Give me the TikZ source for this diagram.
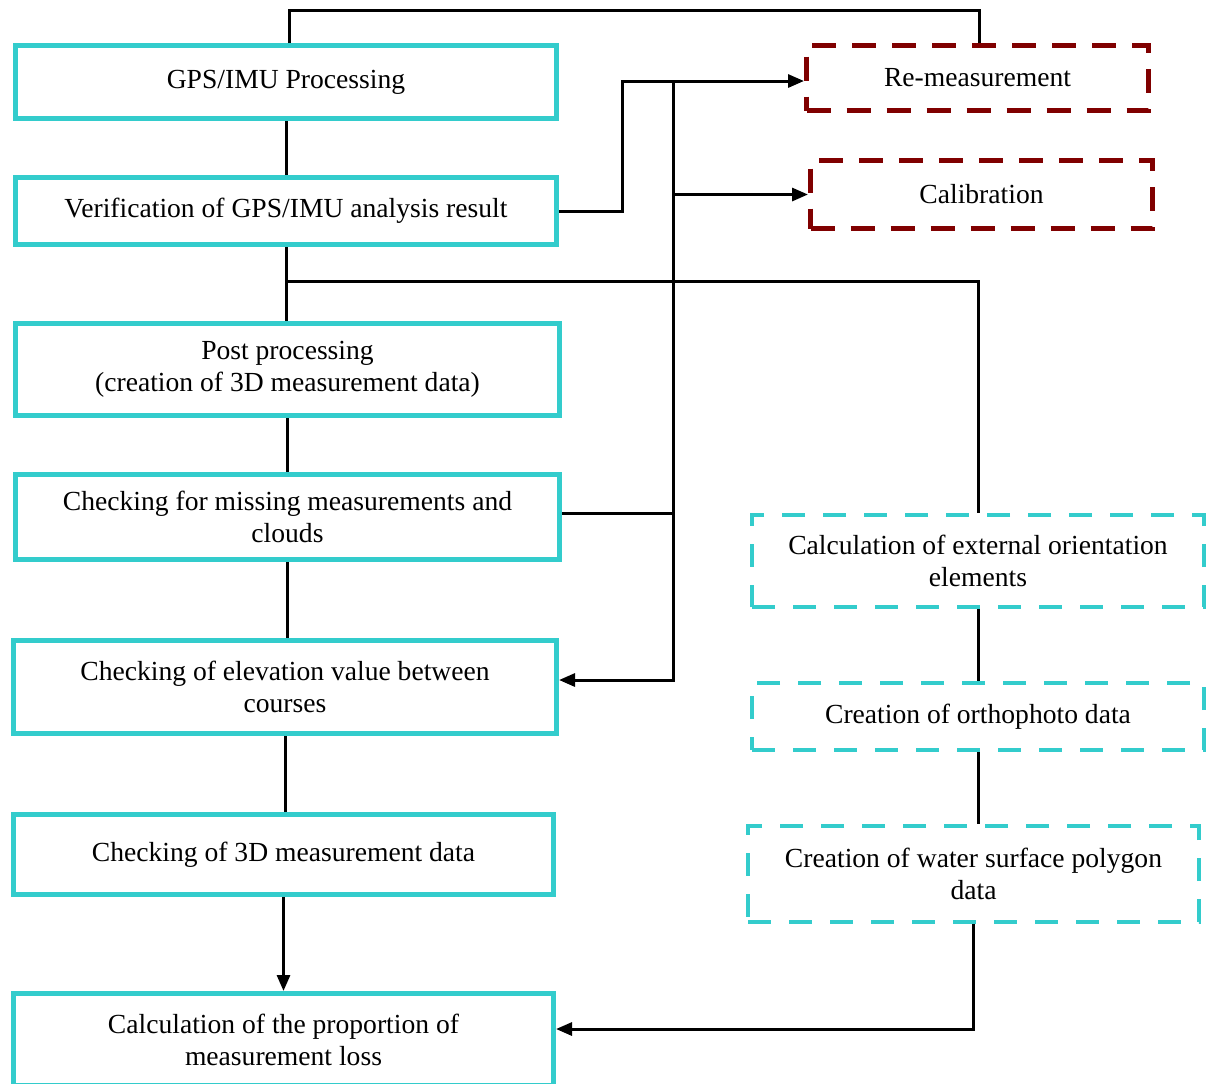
\documentclass[tikz,border=0pt]{standalone}
\usepackage{fontspec}
\setmainfont{Liberation Serif}
\usepackage{tikz}
\usetikzlibrary{arrows.meta}

\definecolor{boxcyan}{RGB}{51,204,204}
\definecolor{boxred}{RGB}{128,0,0}
\newcommand{\boxfont}{\fontsize{13.8}{16}\selectfont}

\tikzset{
    procbox/.style={draw=boxcyan, line width=2.5pt, inner sep=0pt, align=center, font=\boxfont},
    redobox/.style={draw=boxred, line width=2.5pt, dash pattern=on 12pt off 8pt, inner sep=0pt, align=center, font=\boxfont},
    subbox/.style={draw=boxcyan, line width=2pt, dash pattern=on 11.5pt off 9pt, inner sep=0pt, align=center, font=\boxfont},
    link/.style={line width=1.5pt},
    arr/.style={link, -{Triangle[length=8pt, width=6.5pt]}}
}

\begin{document}
\begin{tikzpicture}[x=0.5pt, y=-0.5pt]
    \useasboundingbox (0, 0) rectangle (1208, 1083);

    % Main processing chain
    \node[procbox, minimum width=270.5pt, minimum height=36.5pt] (gps) at (286, 82) {GPS/IMU Processing};
    \node[procbox, minimum width=270.5pt, minimum height=33.5pt] (verif) at (286, 211) {Verification of GPS/IMU analysis result};
    \node[procbox, minimum width=272pt, minimum height=46pt] (post) at (287.5, 369.5) {Post processing\\(creation of 3D measurement data)};
    \node[procbox, minimum width=272pt, minimum height=42.5pt] (miss) at (287.5, 517) {Checking for missing measurements and\\clouds};
    \node[procbox, minimum width=271.5pt, minimum height=46.5pt] (elev) at (285, 687) {Checking of elevation value between\\courses};
    \node[procbox, minimum width=270pt, minimum height=40pt] (chk3d) at (283.5, 854.5) {Checking of 3D measurement data};
    \node[procbox, minimum width=270pt, minimum height=46pt] (loss) at (283.5, 1039.5) {Calculation of the proportion of\\measurement loss};

    % Feedback boxes
    \node[redobox, minimum width=171pt, minimum height=32.5pt] (remeas) at (977.5, 78) {Re-measurement};
    \node[redobox, minimum width=171pt, minimum height=34pt] (calib) at (981.5, 194.5) {Calibration};

    % Water surface branch
    \node[subbox, minimum width=226pt, minimum height=46pt] (extor) at (978, 561) {Calculation of external orientation\\elements};
    \node[subbox, minimum width=226pt, minimum height=33.5pt] (ortho) at (978, 716.5) {Creation of orthophoto data};
    \node[subbox, minimum width=225.5pt, minimum height=48pt] (water) at (973.5, 874) {Creation of water surface polygon\\data};

    % Junctions
    \coordinate (jt) at (673, 81);
    \coordinate (jb) at (287, 281);

    % Vertical links
    \foreach \a/\b in {gps/verif, verif/post, post/miss, miss/elev, elev/chk3d, extor/ortho, ortho/water} {
        \draw[link] (\a.south) -- (\a.south |- \b.north);
    }
    \draw[arr] (chk3d.south) -- (chk3d.south |- loss.north);

    % Loops back
    \draw[link] ([xshift=1.5pt]gps.north) -- ++(0, -32.5) -| ([xshift=1pt]remeas.north);
    \draw[arr] (verif.east) -- ++(63.5, 0) |- ([yshift=-1.5pt]remeas.west);
    \draw[arr] (jt) |- ([yshift=3.5pt]elev.east);
    \draw[arr] (jt |- calib.west) -- (calib.west);
    \draw[link] ([yshift=2pt]miss.east) -- ([yshift=2pt]miss.east -| jt);
    \draw[link] (jb) -| (extor.north);
    \draw[arr] (water.south) |- ([yshift=5.25pt]loss.east);
\end{tikzpicture}
\end{document}
